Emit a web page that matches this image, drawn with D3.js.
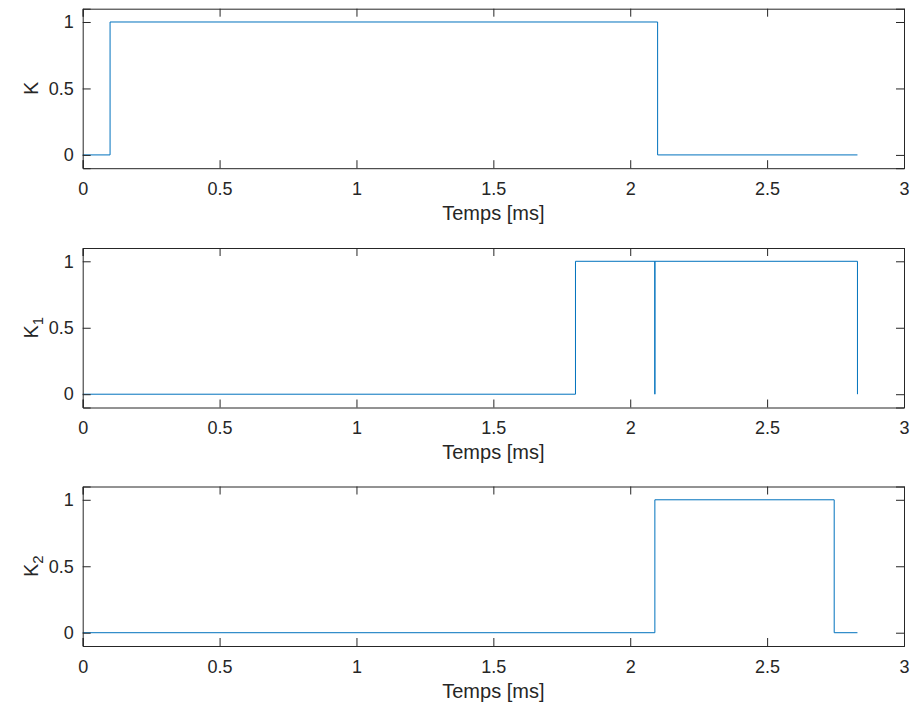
<!DOCTYPE html>
<html>
<head>
<meta charset="utf-8">
<script src="https://cdn.jsdelivr.net/npm/d3@7"></script>
<style>
  html, body { margin: 0; padding: 0; background: #fff; }
  svg { display: block; }
  text { font-family: "Liberation Sans", Arial, Helvetica, sans-serif; fill: #262626; }
</style>
</head>
<body>
<svg id="chart" width="914" height="702"></svg>
<script>
// ---- data ----
const xLabel = "Temps [ms]";
const yNames = ["K", "K", "K"];
const ySubs = ["", "1", "2"];
const xTicks = [0, 0.5, 1, 1.5, 2, 2.5, 3];
const xTickLabels = ["0", "0.5", "1", "1.5", "2", "2.5", "3"];
const yTicks = [0, 0.5, 1];
const yTickLabels = ["0", "0.5", "1"];

const tK  = [0, 0.1, 0.1, 2.1, 2.1, 2.83];
const vK  = [0, 0,   1,   1,   0,   0];
const tK1 = [0, 1.8, 1.8, 2.09, 2.09, 2.09, 2.83, 2.83];
const vK1 = [0, 0,   1,   1,    0,    1,    1,    0];
const tK2 = [0, 2.09, 2.09, 2.745, 2.745, 2.83];
const vK2 = [0, 0,    1,    1,     0,     0];

const series = [[tK, vK], [tK1, vK1], [tK2, vK2]];

// ---- layout ----
const svg = d3.select("#chart");
const left = 82.7, right = 904;
const tops = [8.7, 248, 486.5];
const h = 159.5;
const tick = 8;
const axisColor = "#262626";
const lineColor = "#0072BD";

series.forEach((s, i) => {
  const top = tops[i], bottom = top + h;
  const x = d3.scaleLinear().domain([0, 3]).range([left, right]);
  const y = d3.scaleLinear().domain([-0.1, 1.1]).range([bottom, top]);
  const g = svg.append("g");

  // line
  const pts = s[0].map((t, k) => [t, s[1][k]]);
  g.append("path")
    .datum(pts)
    .attr("fill", "none")
    .attr("stroke", lineColor)
    .attr("stroke-width", 1)
    .attr("d", d3.line().x(d => x(d[0])).y(d => y(d[1])));

  // axes
  const fmtX = (d) => xTickLabels[xTicks.indexOf(d)];
  const fmtY = (d) => yTickLabels[yTicks.indexOf(d)];

  const ax = [
    g.append("g").attr("transform", `translate(0,${bottom})`)
      .call(d3.axisBottom(x).tickValues(xTicks).tickFormat(fmtX).tickSize(-tick).tickPadding(14)),
    g.append("g").attr("transform", `translate(0,${top})`)
      .call(d3.axisTop(x).tickValues(xTicks).tickFormat("").tickSize(-tick)),
    g.append("g").attr("transform", `translate(${left},0)`)
      .call(d3.axisLeft(y).tickValues(yTicks).tickFormat(fmtY).tickSize(-tick).tickPadding(9)),
    g.append("g").attr("transform", `translate(${right},0)`)
      .call(d3.axisRight(y).tickValues(yTicks).tickFormat("").tickSize(-tick))
  ];
  ax.forEach(a => {
    a.select(".domain").attr("stroke", axisColor).attr("stroke-width", 1);
    a.selectAll(".tick line").attr("stroke", axisColor).attr("stroke-width", 1);
    a.selectAll(".tick text").attr("fill", axisColor).style("font-size", "18px")
      .style("font-family", "'Liberation Sans', Arial, sans-serif");
  });

  // x label
  g.append("text")
    .attr("x", (left + right) / 2)
    .attr("y", bottom + 44.5)
    .attr("dy", "0.35em")
    .attr("text-anchor", "middle")
    .style("font-size", "20px")
    .text(xLabel);

  // y label
  const yl = g.append("text")
    .attr("transform", `translate(31,${(top + bottom) / 2}) rotate(-90)`)
    .attr("text-anchor", "middle")
    .attr("dy", "0.35em")
    .style("font-size", "20px");
  yl.append("tspan").text(yNames[i]);
  if (ySubs[i]) {
    yl.append("tspan").attr("dy", "5").style("font-size", "15px").text(ySubs[i]);
  }
});
</script>
</body>
</html>
